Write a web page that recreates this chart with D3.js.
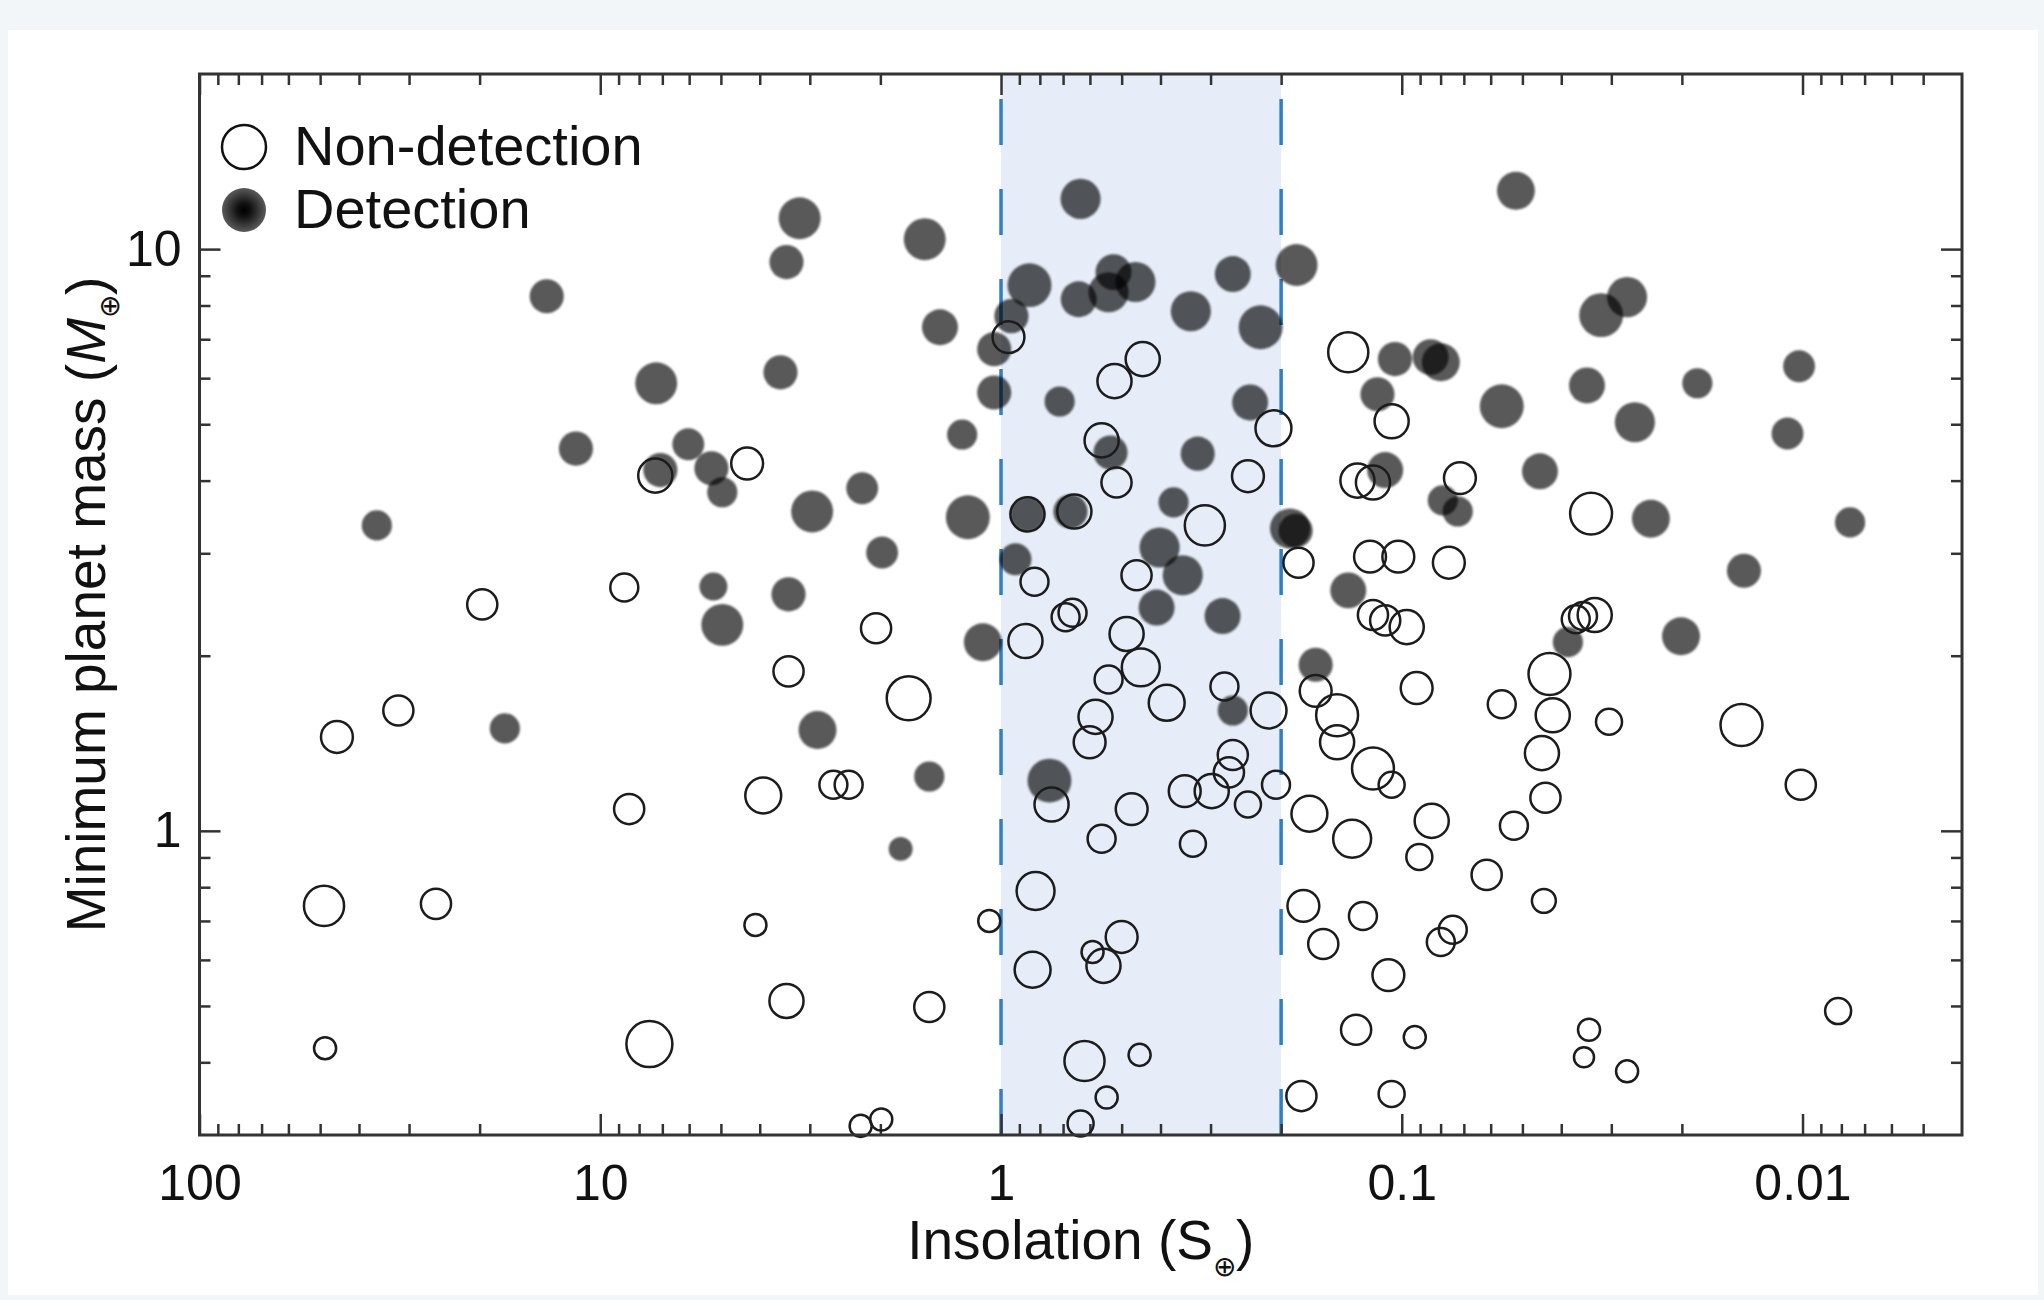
<!DOCTYPE html>
<html>
<head>
<meta charset="utf-8">
<script src="https://cdn.jsdelivr.net/npm/d3@7"></script>
<style>
  html, body { margin: 0; padding: 0; background: #f3f6f9; }
  svg { display: block; }
  text { font-family: "Liberation Sans", Arial, Helvetica, sans-serif; fill: #111; }
</style>
</head>
<body>
<svg id="chart"></svg>
<script>
// [insolation S_earth, minimum mass M_earth, relative size]
const detections = [
  [13.6, 8.30, 55], [7.25, 5.88, 83], [11.5, 4.54, 55], [6.03, 4.62, 48], [7.08, 4.17, 55],
  [5.28, 4.20, 55], [4.96, 3.82, 43], [36.1, 3.35, 43], [5.22, 2.63, 37], [3.18, 11.3, 83],
  [3.43, 9.50, 55], [3.55, 6.14, 55], [1.55, 10.4, 83], [0.633, 12.2, 76], [1.42, 7.34, 61],
  [0.849, 8.67, 91], [0.942, 7.67, 55], [1.04, 6.73, 55], [1.04, 5.67, 55], [1.25, 4.80, 43],
  [2.22, 3.88, 48], [2.96, 3.54, 83], [1.98, 3.01, 48], [1.21, 3.46, 91], [3.39, 2.55, 55],
  [0.640, 8.20, 61], [0.539, 8.43, 76], [0.524, 9.13, 61], [0.462, 8.78, 76], [0.336, 7.82, 76],
  [0.264, 9.06, 61], [0.225, 7.34, 91], [0.183, 9.39, 83], [0.714, 5.47, 43], [0.239, 5.45, 61],
  [0.533, 4.47, 55], [0.323, 4.45, 55], [0.859, 3.50, 55], [0.671, 3.54, 55], [0.371, 3.67, 43],
  [0.190, 3.31, 76], [0.184, 3.28, 55], [0.402, 3.07, 76], [0.352, 2.75, 76], [0.920, 2.93, 48],
  [0.409, 2.42, 61], [0.280, 2.34, 61], [0.136, 2.59, 61], [4.96, 2.26, 83], [1.11, 2.11, 68],
  [2.87, 1.49, 68], [1.51, 1.24, 43], [1.78, 0.931, 27], [17.3, 1.50, 43], [0.757, 1.22, 91],
  [0.264, 1.61, 43], [0.164, 1.93, 55], [0.0519, 12.6, 68], [0.0274, 8.27, 76], [0.0318, 7.70, 91],
  [0.104, 6.47, 55], [0.0847, 6.52, 61], [0.0799, 6.39, 68], [0.115, 5.63, 55], [0.0345, 5.83, 61],
  [0.0563, 5.37, 91], [0.0183, 5.88, 43], [0.0102, 6.29, 48], [0.0262, 5.04, 76], [0.0109, 4.82, 48],
  [0.110, 4.17, 61], [0.0790, 3.70, 43], [0.0725, 3.54, 43], [0.0452, 4.15, 61], [0.0239, 3.44, 68],
  [0.00761, 3.39, 43], [0.0140, 2.80, 55], [0.0385, 2.11, 43], [0.0201, 2.16, 68]
];

const nonDetections = [
  [7.29, 4.08, 55], [4.30, 4.28, 48], [8.71, 2.62, 37], [19.7, 2.45, 43], [0.958, 7.06, 48],
  [0.443, 6.47, 55], [0.521, 5.93, 55], [0.209, 4.92, 61], [0.561, 4.69, 55], [0.515, 3.97, 43],
  [0.242, 4.07, 48], [0.136, 6.65, 76], [0.129, 4.00, 55], [0.118, 3.97, 55], [0.859, 3.50, 55],
  [0.656, 3.54, 55], [0.310, 3.35, 76], [0.181, 2.89, 43], [0.459, 2.75, 43], [0.825, 2.68, 37],
  [0.690, 2.33, 37], [0.663, 2.37, 37], [0.120, 2.96, 48], [0.102, 2.96, 48], [0.0763, 2.89, 48],
  [0.118, 2.35, 43], [0.110, 2.30, 43], [0.0972, 2.24, 55], [0.0368, 2.31, 37], [0.0353, 2.34, 37],
  [0.0330, 2.35, 55], [0.0428, 1.86, 83], [0.0918, 1.76, 48], [0.0563, 1.65, 37], [0.0420, 1.58, 55],
  [0.0304, 1.54, 32], [0.0142, 1.52, 83], [0.0447, 1.36, 55], [0.0101, 1.20, 43], [0.106, 1.20, 32],
  [0.0438, 1.14, 43], [0.0842, 1.04, 55], [0.0525, 1.02, 37], [0.0904, 0.902, 32], [0.0614, 0.840, 43],
  [0.0442, 0.758, 27], [0.0746, 0.676, 37], [0.0799, 0.644, 37], [0.108, 0.565, 48], [0.0928, 0.442, 23],
  [0.0341, 0.455, 23], [0.0351, 0.408, 19], [0.0274, 0.386, 23], [0.00815, 0.490, 32], [0.106, 0.353, 32],
  [2.05, 2.23, 43], [3.39, 1.88, 43], [1.70, 1.69, 91], [2.62, 1.20, 37], [2.40, 1.20, 37],
  [1.07, 0.700, 23], [1.51, 0.498, 43], [2.24, 0.311, 23], [1.99, 0.319, 23], [0.869, 2.12, 55],
  [0.486, 2.18, 55], [0.448, 1.91, 68], [0.539, 1.82, 37], [0.386, 1.66, 61], [0.277, 1.77, 37],
  [0.215, 1.61, 61], [0.581, 1.57, 55], [0.601, 1.42, 48], [0.748, 1.11, 55], [0.264, 1.35, 43],
  [0.270, 1.26, 43], [0.298, 1.17, 55], [0.348, 1.17, 48], [0.242, 1.11, 32], [0.206, 1.20, 37],
  [0.472, 1.09, 48], [0.561, 0.969, 37], [0.332, 0.950, 32], [0.820, 0.788, 68], [0.500, 0.657, 48],
  [0.591, 0.619, 23], [0.555, 0.586, 55], [0.834, 0.577, 61], [0.619, 0.402, 76], [0.451, 0.412, 23],
  [0.545, 0.348, 23], [0.633, 0.314, 32], [0.164, 1.74, 48], [0.145, 1.58, 83], [0.145, 1.42, 55],
  [0.118, 1.28, 83], [0.170, 1.07, 61], [0.133, 0.969, 68], [0.176, 0.743, 48], [0.125, 0.714, 37],
  [0.157, 0.639, 43], [0.130, 0.455, 43], [0.178, 0.350, 43], [31.9, 1.61, 43], [45.4, 1.45, 48],
  [8.47, 1.09, 43], [3.92, 1.15, 61], [48.9, 0.743, 76], [25.7, 0.749, 43], [4.10, 0.689, 23],
  [3.43, 0.510, 55], [7.54, 0.430, 100], [48.6, 0.423, 23], [0.106, 5.06, 55], [0.0716, 4.04, 48],
  [0.0337, 3.51, 83]
];

const xMajor = [100, 10, 1, 0.1, 0.01];
const xLabels = ['100', '10', '1', '0.1', '0.01'];
const yMajor = [1, 10];
const yLabels = ['1', '10'];
const hzBounds = [1, 0.2];
const legendItems = ['Non-detection', 'Detection'];

const W = 2044, H = 1300;
const margin = { top: 74, right: 82, bottom: 165, left: 199.5 };
const width = W - margin.left - margin.right;
const height = H - margin.top - margin.bottom;

const svg = d3.select('#chart').attr('width', W).attr('height', H);

svg.append('rect')
  .attr('x', 8).attr('y', 30)
  .attr('width', 2030).attr('height', 1265)
  .attr('fill', '#fff');

const defs = svg.append('defs');
defs.append('filter').attr('id', 'soft')
  .append('feGaussianBlur').attr('stdDeviation', 1.1);
const grad = defs.append('radialGradient').attr('id', 'legendDot');
grad.append('stop').attr('offset', '0%').attr('stop-color', '#000');
grad.append('stop').attr('offset', '30%').attr('stop-color', '#111');
grad.append('stop').attr('offset', '100%').attr('stop-color', '#5a5a5a');

const g = svg.append('g').attr('transform', `translate(${margin.left},${margin.top})`);

const x = d3.scaleLog().domain([100, 0.004]).range([0, width]);
const y = d3.scaleLog().domain([0.3, 20]).range([height, 0]);
const r = d3.scaleSqrt().domain([0, 100]).range([0, 23]);

// habitable zone band
g.append('rect')
  .attr('x', x(hzBounds[0]))
  .attr('width', x(hzBounds[1]) - x(hzBounds[0]))
  .attr('y', 0).attr('height', height)
  .attr('fill', '#e6edf8');

hzBounds.forEach(v => {
  g.append('line')
    .attr('x1', x(v)).attr('x2', x(v))
    .attr('y1', height).attr('y2', 0)
    .attr('stroke', '#2f80c0')
    .attr('stroke-width', 3.5)
    .attr('stroke-dasharray', '46 44');
});

// minor tick values
const xMinor = [];
[-3, -2, -1, 0, 1].forEach(e => {
  for (let k = 2; k <= 9; k++) {
    const v = k * Math.pow(10, e);
    if (v > 0.0041 && v < 100) xMinor.push(v);
  }
});
const yMinor = [];
[-1, 0, 1].forEach(e => {
  for (let k = 2; k <= 9; k++) {
    const v = k * Math.pow(10, e);
    if (v > 0.31 && v < 19.9) yMinor.push(v);
  }
});

function styleAxis(sel) {
  sel.select('.domain').remove();
  sel.selectAll('line').attr('stroke', '#333').attr('stroke-width', 2.5);
  sel.selectAll('text')
    .attr('font-size', 50)
    .attr('font-family', '"Liberation Sans", Arial, Helvetica, sans-serif')
    .attr('fill', '#111');
}

// bottom
g.append('g').attr('transform', `translate(0,${height})`)
  .call(d3.axisBottom(x).tickValues(xMajor).tickSize(-21).tickSizeOuter(0)
    .tickPadding(29).tickFormat((d, i) => xLabels[i]))
  .call(styleAxis);
g.append('g').attr('transform', `translate(0,${height})`)
  .call(d3.axisBottom(x).tickValues(xMinor).tickSize(-11).tickSizeOuter(0).tickFormat(''))
  .call(styleAxis);
// top
g.append('g')
  .call(d3.axisTop(x).tickValues(xMajor).tickSize(-21).tickSizeOuter(0).tickFormat(''))
  .call(styleAxis);
g.append('g')
  .call(d3.axisTop(x).tickValues(xMinor).tickSize(-11).tickSizeOuter(0).tickFormat(''))
  .call(styleAxis);
// left
g.append('g')
  .call(d3.axisLeft(y).tickValues(yMajor).tickSize(-21).tickSizeOuter(0)
    .tickPadding(18).tickFormat((d, i) => yLabels[i]))
  .call(styleAxis);
g.append('g')
  .call(d3.axisLeft(y).tickValues(yMinor).tickSize(-11).tickSizeOuter(0).tickFormat(''))
  .call(styleAxis);
// right
g.append('g').attr('transform', `translate(${width},0)`)
  .call(d3.axisRight(y).tickValues(yMajor).tickSize(-21).tickSizeOuter(0).tickFormat(''))
  .call(styleAxis);
g.append('g').attr('transform', `translate(${width},0)`)
  .call(d3.axisRight(y).tickValues(yMinor).tickSize(-11).tickSizeOuter(0).tickFormat(''))
  .call(styleAxis);

// points
g.append('g').attr('filter', 'url(#soft)')
  .selectAll('circle')
  .data(detections)
  .join('circle')
  .attr('cx', d => x(d[0]))
  .attr('cy', d => y(d[1]))
  .attr('r', d => r(d[2]))
  .attr('fill', '#000')
  .attr('fill-opacity', 0.65);

g.append('g')
  .selectAll('circle')
  .data(nonDetections)
  .join('circle')
  .attr('cx', d => x(d[0]))
  .attr('cy', d => y(d[1]))
  .attr('r', d => r(d[2]))
  .attr('fill', 'none')
  .attr('stroke', '#1c1c1c')
  .attr('stroke-width', 2.5);

// frame
g.append('rect')
  .attr('width', width).attr('height', height)
  .attr('fill', 'none')
  .attr('stroke', '#333')
  .attr('stroke-width', 3);

// legend
const legend = svg.append('g').attr('transform', 'translate(244,147)');
legendItems.forEach((label, i) => {
  const row = legend.append('g').attr('transform', `translate(0,${i * 63})`);
  row.append('circle')
    .attr('r', 22)
    .attr('fill', i === 0 ? 'none' : 'url(#legendDot)')
    .attr('stroke', i === 0 ? '#111' : 'none')
    .attr('stroke-width', 2.5);
  row.append('text')
    .attr('x', 50).attr('y', 18)
    .attr('font-size', 56)
    .text(label);
});

// x title
const xt = g.append('text')
  .attr('x', width / 2).attr('y', height + 124)
  .attr('text-anchor', 'middle')
  .attr('font-size', 55);
xt.append('tspan').text('Insolation (S');
xt.append('tspan').attr('font-size', 28).attr('dy', 17).text('\u2295');
xt.append('tspan').attr('dy', -17).text(')');

// y title
const yt = g.append('text')
  .attr('transform', `translate(-95,${height / 2}) rotate(-90)`)
  .attr('text-anchor', 'middle')
  .attr('font-size', 55);
yt.append('tspan').text('Minimum planet mass (');
yt.append('tspan').attr('font-style', 'italic').text('M');
yt.append('tspan').attr('font-size', 28).attr('dy', 14).text('\u2295');
yt.append('tspan').attr('dy', -14).text(')');
</script>
</body>
</html>
